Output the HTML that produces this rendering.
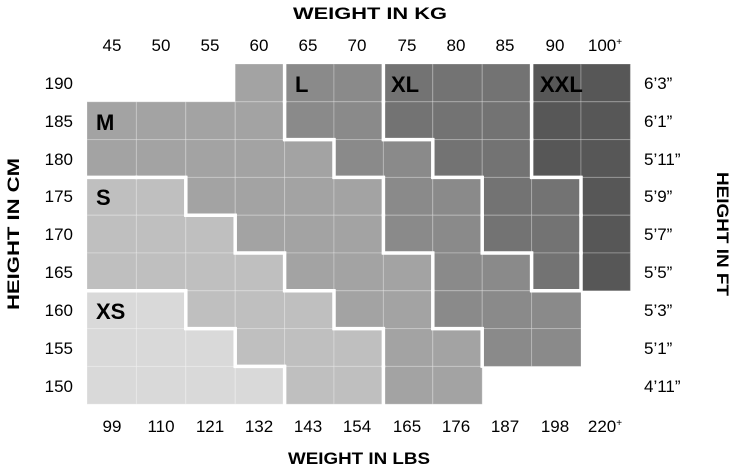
<!DOCTYPE html>
<html><head><meta charset="utf-8"><style>
body{margin:0;background:#fff;width:736px;height:468px;overflow:hidden}
svg{display:block}
.t{font-family:"Liberation Sans",sans-serif;font-size:17px;fill:#000}
.h{font-family:"Liberation Sans",sans-serif;font-weight:bold;font-size:17px;fill:#000}
.s{font-family:"Liberation Sans",sans-serif;font-weight:bold;font-size:22px;fill:#000}
</style></head><body>
<svg id="g" width="736" height="468" viewBox="0 0 736 468" xmlns="http://www.w3.org/2000/svg">
<g id="cells"></g>
<text class="h" x="293" y="19" textLength="154" lengthAdjust="spacingAndGlyphs">WEIGHT IN KG</text>
<text class="h" x="288" y="464" textLength="142" lengthAdjust="spacingAndGlyphs">WEIGHT IN LBS</text>
<text class="h" transform="translate(19,234) rotate(-90)" x="-76" textLength="152" lengthAdjust="spacingAndGlyphs">HEIGHT IN CM</text>
<text class="h" transform="translate(717,234) rotate(90)" x="-62" textLength="124" lengthAdjust="spacingAndGlyphs">HEIGHT IN FT</text>
<g class="t" text-anchor="middle">
<text x="112" y="51">45</text><text x="161" y="51">50</text><text x="210" y="51">55</text><text x="259" y="51">60</text><text x="308" y="51">65</text><text x="357" y="51">70</text><text x="407" y="51">75</text><text x="456" y="51">80</text><text x="505" y="51">85</text><text x="555" y="51">90</text><text x="605" y="51">100<tspan font-size="10" dy="-6">+</tspan></text>
<text x="112" y="432">99</text><text x="161" y="432">110</text><text x="210" y="432">121</text><text x="259" y="432">132</text><text x="308" y="432">143</text><text x="357" y="432">154</text><text x="407" y="432">165</text><text x="456" y="432">176</text><text x="505" y="432">187</text><text x="555" y="432">198</text><text x="605" y="432">220<tspan font-size="10" dy="-6">+</tspan></text>
</g>
<g class="t" text-anchor="end">
<text x="73" y="89">190</text><text x="73" y="127">185</text><text x="73" y="165">180</text><text x="73" y="202">175</text><text x="73" y="240">170</text><text x="73" y="278">165</text><text x="73" y="316">160</text><text x="73" y="354">155</text><text x="73" y="392">150</text>
</g>
<g class="t">
<text x="644" y="89">6’3”</text><text x="644" y="127">6’1”</text><text x="644" y="165">5’11”</text><text x="644" y="202">5’9”</text><text x="644" y="240">5’7”</text><text x="644" y="278">5’5”</text><text x="644" y="316">5’3”</text><text x="644" y="354">5’1”</text><text x="644" y="392">4’11”</text>
</g>
<g class="s">
<text x="295" y="92">L</text><text x="391" y="92">XL</text><text x="540" y="92">XXL</text>
<text x="96" y="130">M</text><text x="96" y="205">S</text><text x="96" y="319">XS</text>
</g>
</svg>
<script>
var rows=[
"...MLLXXXZZ",
"MMMMLLXXXZZ",
"MMMMMLLXXZZ",
"SSMMMMLLXXZ",
"SSSMMMLLXXZ",
"SSSSMMMLLXZ",
"AASSSMMLLL.",
"AAASSSMMLL.",
"AAAASSMM..."];
var col={A:"#d9d9d9",S:"#bfbfbf",M:"#a3a3a3",L:"#8a8a8a",X:"#737373",Z:"#575757"};
var x0=87,y0=64,cw=49.4,rh=37.8,g=document.getElementById('cells'),h="";
function X(c){return x0+c*cw}function Y(r){return y0+r*rh}
for(var r=0;r<9;r++)for(var c=0;c<11;c++){var k=rows[r][c];if(k=='.')continue;
h+='<rect x="'+X(c)+'" y="'+Y(r)+'" width="'+cw+'" height="'+rh+'" fill="'+col[k]+'" stroke="rgba(255,255,255,0.25)" stroke-width="1"/>';}
for(var r=0;r<9;r++)for(var c=0;c<11;c++){var k=rows[r][c];if(k=='.')continue;
if(c<10){var n=rows[r][c+1];if(n!='.'&&n!=k)h+='<line x1="'+X(c+1)+'" y1="'+(Y(r)-1.5)+'" x2="'+X(c+1)+'" y2="'+(Y(r+1)+1.5)+'" stroke="#fff" stroke-width="3.5"/>';}
if(r<8){var n=rows[r+1][c];if(n!='.'&&n!=k)h+='<line x1="'+(X(c)-1.5)+'" y1="'+Y(r+1)+'" x2="'+(X(c+1)+1.5)+'" y2="'+Y(r+1)+'" stroke="#fff" stroke-width="3.5"/>';}}
g.innerHTML=h;
</script>
</body></html>
